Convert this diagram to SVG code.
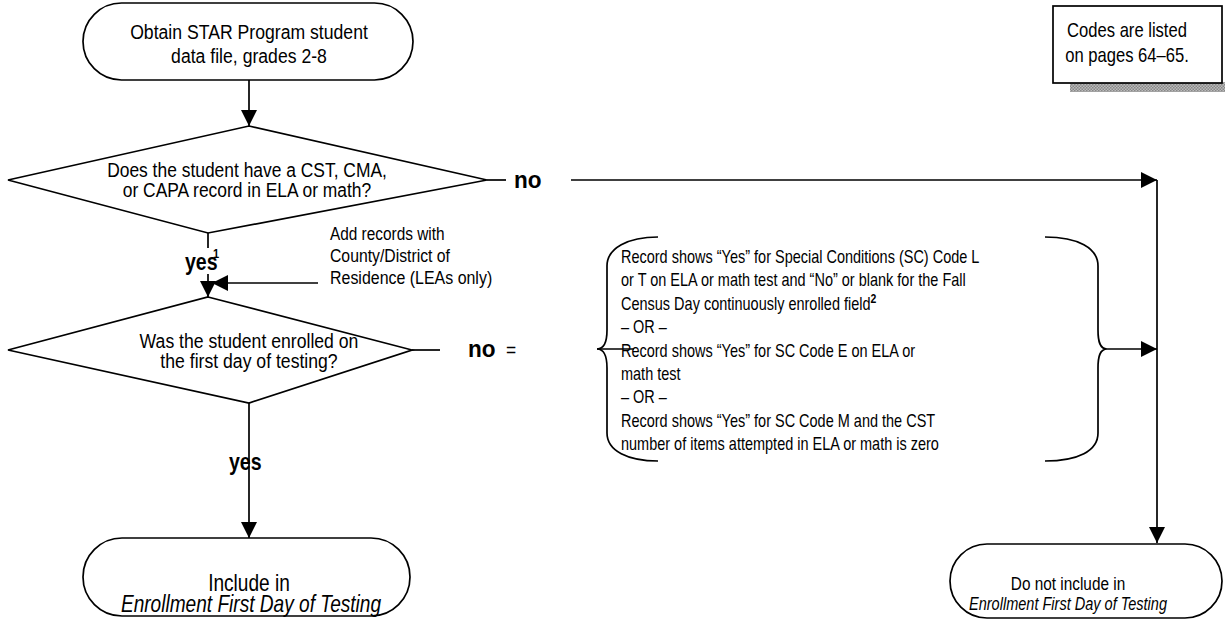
<svg xmlns="http://www.w3.org/2000/svg" width="1225" height="619" viewBox="0 0 1225 619">
<defs>
<style>
text{font-family:"Liberation Sans",Arial,sans-serif;fill:#000}
.t21{font-size:21px}
.t19{font-size:19px}
.t18{font-size:18px}
.lbl{font-size:23px;font-weight:bold}
.shape{fill:#fff;stroke:#000;stroke-width:1.7}
.conn{fill:none;stroke:#000;stroke-width:1.7}
.c{text-anchor:middle}
</style>
<marker id="ah" markerUnits="userSpaceOnUse" markerWidth="17" markerHeight="16" refX="16" refY="8" orient="auto">
<path d="M0,0 L16,8 L0,16 z" fill="#000"/>
</marker>
<pattern id="hatch" width="3" height="3" patternUnits="userSpaceOnUse">
<rect width="3" height="3" fill="#bbb"/>
<rect width="1.5" height="1.5" fill="#888"/>
<rect x="1.5" y="1.5" width="1.5" height="1.5" fill="#888"/>
</pattern>
</defs>

<g id="connectors">
<line class="conn" x1="249" y1="80" x2="249" y2="126" marker-end="url(#ah)"/>
<line class="conn" x1="487" y1="180" x2="506" y2="180"/>
<line class="conn" x1="571" y1="180" x2="1157" y2="180" marker-end="url(#ah)"/>
<line class="conn" x1="1157" y1="180" x2="1157" y2="543" marker-end="url(#ah)"/>
<line class="conn" x1="208" y1="233" x2="208" y2="248"/>
<line class="conn" x1="208" y1="274" x2="208" y2="297" marker-end="url(#ah)"/>
<line class="conn" x1="318" y1="283" x2="212" y2="283" marker-end="url(#ah)"/>
<line class="conn" x1="412" y1="350" x2="440" y2="350"/>
<line class="conn" x1="597" y1="349" x2="634" y2="349"/>
<line class="conn" x1="1107" y1="349" x2="1157" y2="349" marker-end="url(#ah)"/>
<line class="conn" x1="249" y1="403" x2="249" y2="538" marker-end="url(#ah)"/>
<text class="lbl" transform="translate(514,188) scale(0.98,1)">no</text>
<text class="lbl" transform="translate(185,270) scale(0.85,1)">yes</text>
<text transform="translate(213,258) scale(0.85,1)" style="font-size:13px;font-weight:bold">1</text>
<text class="lbl" transform="translate(468,357) scale(0.98,1)">no</text>
<text class="t21" transform="translate(506,357) scale(0.83,1)">=</text>
<text class="lbl" transform="translate(229,470) scale(0.85,1)">yes</text>
</g>

<g id="start">
<rect class="shape" x="83" y="3" width="330" height="77" rx="38.5"/>
<text class="t21 c" transform="translate(249,39) scale(0.84,1)">Obtain STAR Program student</text>
<text class="t21 c" transform="translate(249,63) scale(0.84,1)">data file, grades 2-8</text>
</g>

<g id="note">
<rect x="1070" y="82" width="160" height="10" fill="url(#hatch)"/>
<rect x="1053" y="6" width="169" height="77" fill="#fff" stroke="#000" stroke-width="1.7"/>
<text class="c" style="font-size:20px" transform="translate(1127,37) scale(0.83,1)">Codes are listed</text>
<text class="c" style="font-size:20px" transform="translate(1127,62) scale(0.83,1)">on pages 64–65.</text>
</g>

<g id="decision1">
<polygon class="shape" points="249,126 487,180 208,233 8,180"/>
<text class="t21 c" transform="translate(247,177) scale(0.83,1)">Does the student have a CST, CMA,</text>
<text class="t21 c" transform="translate(247,197) scale(0.83,1)">or CAPA record in ELA or math?</text>
</g>

<g id="add-records">
<text class="t19" transform="translate(330,240) scale(0.81,1)">Add records with</text>
<text class="t19" transform="translate(330,262) scale(0.83,1)">County/District of</text>
<text class="t19" transform="translate(330,284) scale(0.84,1)">Residence (LEAs only)</text>
</g>

<g id="decision2">
<polygon class="shape" points="208,297 412,350 249,403 8,350"/>
<text class="t21 c" transform="translate(249,348) scale(0.84,1)">Was the student enrolled on</text>
<text class="t21 c" transform="translate(249,368) scale(0.84,1)">the first day of testing?</text>
</g>

<g id="conditions">
<path class="conn" d="M658,237 C628,237 607,248 607,266 L607,330 C607,342 604,349 597,349 C604,349 607,356 607,368 L607,433 C607,451 628,461 658,461"/>
<path class="conn" d="M1045,237 C1078,237 1098,248 1098,266 L1098,330 C1098,342 1100,349 1107,349 C1100,349 1098,356 1098,368 L1098,433 C1098,451 1078,461 1045,461"/>
<text class="t18" transform="translate(621,263) scale(0.805,1)">Record shows “Yes” for Special Conditions (SC) Code L</text>
<text class="t18" transform="translate(621,286) scale(0.805,1)">or T on ELA or math test and “No” or blank for the Fall</text>
<text class="t18" transform="translate(621,310) scale(0.805,1)">Census Day continuously enrolled field<tspan dy="-7" style="font-size:13px;font-weight:bold">2</tspan></text>
<text class="t18" transform="translate(621,333) scale(0.805,1)">– OR –</text>
<text class="t18" transform="translate(621,357) scale(0.805,1)">Record shows “Yes” for SC Code E on ELA or</text>
<text class="t18" transform="translate(621,380) scale(0.805,1)">math test</text>
<text class="t18" transform="translate(621,403) scale(0.805,1)">– OR –</text>
<text class="t18" transform="translate(621,427) scale(0.805,1)">Record shows “Yes” for SC Code M and the CST</text>
<text class="t18" transform="translate(621,450) scale(0.805,1)">number of items attempted in ELA or math is zero</text>
</g>

<g id="include">
<rect class="shape" x="83" y="538" width="327" height="78" rx="39"/>
<text class="c" style="font-size:23px" transform="translate(249,591) scale(0.83,1)">Include in</text>
<text class="c" style="font-size:23px;font-style:italic" transform="translate(251,612) scale(0.83,1)">Enrollment First Day of Testing</text>
</g>

<g id="exclude">
<rect class="shape" x="950" y="544" width="272" height="74" rx="37"/>
<text class="c" style="font-size:18.5px" transform="translate(1068,590) scale(0.83,1)">Do not include in</text>
<text class="c" style="font-size:17.5px;font-style:italic" transform="translate(1068,610) scale(0.83,1)">Enrollment First Day of Testing</text>
</g>
</svg>
